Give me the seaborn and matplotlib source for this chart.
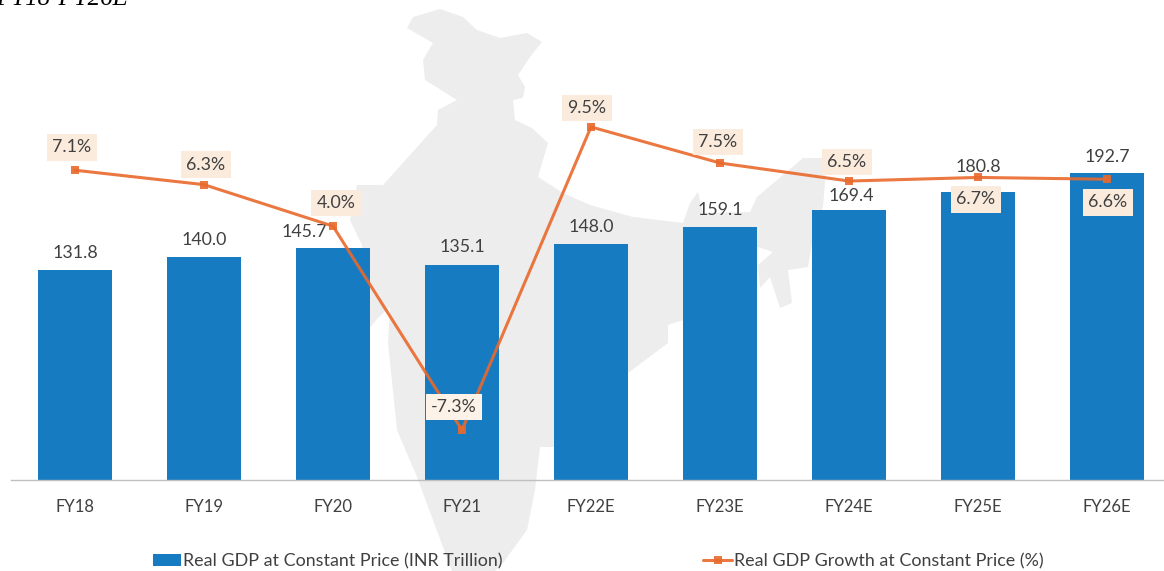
import matplotlib
matplotlib.use('Agg')
import matplotlib.pyplot as plt
import seaborn as sns
import numpy as np
import pandas as pd
from matplotlib.patches import Polygon

years = ['FY18', 'FY19', 'FY20', 'FY21', 'FY22E', 'FY23E', 'FY24E', 'FY25E', 'FY26E']
gdp = [131.8, 140.0, 145.7, 135.1, 148.0, 159.1, 169.4, 180.8, 192.7]
growth = [7.1, 6.3, 4.0, -7.3, 9.5, 7.5, 6.5, 6.7, 6.6]

# label offsets in pixels, from the top of the bar / from the marker
gdp_offset = [(0, 17), (0, 17), (-29, 16), (0, 18), (0, 17), (0, 17), (2, 14), (0, 25), (0, 16)]
growth_offset = [(-3, 23), (2, 20), (3, 23), (-8, 23), (-4, 19), (-2, 21), (-2, 19), (-2, -22), (1, -23)]

# outline of the map behind the chart, image pixels
india_map = [(407, 28), (413, 17), (440, 9), (463, 17), (477, 30), (500, 38), (527, 33), (542, 42),
             (530, 57), (518, 75), (525, 87), (523, 98), (513, 100), (515, 120), (532, 128), (548, 143),
             (538, 177), (563, 193), (590, 205), (633, 217), (683, 223), (690, 203), (698, 192), (703, 213),
             (750, 212), (757, 197), (803, 158), (827, 158), (823, 207), (813, 237), (808, 267), (788, 270),
             (792, 303), (780, 308), (770, 277), (760, 288), (758, 265), (773, 252), (758, 247), (720, 250),
             (700, 300), (683, 320), (668, 325), (668, 343), (628, 373), (555, 447), (540, 447), (535, 490),
             (527, 530), (503, 563), (495, 571), (452, 571), (443, 547), (417, 477), (397, 430), (388, 343),
             (390, 307), (378, 318), (368, 330), (362, 245), (350, 220), (357, 185), (383, 185), (437, 125),
             (438, 110), (457, 100), (425, 80), (423, 60), (433, 43)]

df = pd.DataFrame({'year': years, 'gdp': gdp, 'growth': growth, 'pos': np.arange(len(years))})

W, H = 1164, 571
base_y = 480
left_x = 10.5
step = 129.0
gdp_px = 1.593
growth_px = 18.04
px = 0.72  # points per pixel at dpi 100

sns.set_theme(style='white')
plt.rcParams['font.family'] = ['Lato', 'DejaVu Sans']

blue = '#177BC1'
orange = '#E9692C'
grey_text = '#404040'

fig = plt.figure(figsize=(W / 100, H / 100), dpi=100)

bg = fig.add_axes([0, 0, 1, 1], zorder=0)
bg.set_xlim(0, W)
bg.set_ylim(H, 0)
bg.axis('off')
bg.add_patch(Polygon(india_map, closed=True, facecolor='#EDEDED', edgecolor='none'))

ax = fig.add_axes([left_x / W, (H - base_y) / H, 9 * step / W, base_y / H], zorder=1)
ax.patch.set_alpha(0)
sns.barplot(data=df, x='year', y='gdp', color=blue, saturation=1, width=0.574, ax=ax, linewidth=0,
            label='Real GDP at Constant Price (INR Trillion)', legend=False)
ax.set_xlim(-0.5, 8.5)
ax.set_ylim(0, base_y / gdp_px)
ax.set_xlabel('')
ax.set_ylabel('')
ax.set_yticks([])
ax.tick_params(axis='x', length=0, pad=14, labelsize=12, labelcolor=grey_text)
sns.despine(ax=ax, left=True)
ax.spines['bottom'].set_color('#BFBFBF')
ax.spines['bottom'].set_linewidth(1)

ax2 = ax.twinx()
ax2.patch.set_alpha(0)
low = growth[3] - (base_y - 430) / growth_px
ax2.set_ylim(low, low + base_y / growth_px)
sns.lineplot(data=df, x='pos', y='growth', color=orange, linewidth=2.2, marker='s', markersize=6,
             markeredgewidth=0, alpha=0.9, ax=ax2, legend=False,
             label='Real GDP Growth at Constant Price (%)')
ax2.set_xlim(-0.5, 8.5)
ax2.set_yticks([])
ax2.set_xlabel('')
ax2.set_ylabel('')
for s in ax2.spines.values():
    s.set_visible(False)

for i, v in enumerate(gdp):
    dx, dy = gdp_offset[i]
    ax.annotate(f'{v:.1f}', (i, v), xytext=(dx * px, dy * px), textcoords='offset points',
                ha='center', va='center', fontsize=12.8, color=grey_text)

for i, v in enumerate(growth):
    dx, dy = growth_offset[i]
    fc = '#FCF2E8' if i == 3 else '#FAEBDD'
    ax2.annotate(f'{v:.1f}%', (i, v), xytext=(dx * px, dy * px), textcoords='offset points',
                 ha='center', va='center', fontsize=12.8, color=grey_text, zorder=5,
                 bbox=dict(boxstyle='square,pad=0.3', facecolor=fc, edgecolor='none'))

fig.text(128 / W, 1 - 5 / H, 'FY18-FY26E', family='Liberation Serif', style='italic',
         fontsize=18, color='black', ha='right', va='baseline')

h1, l1 = ax.get_legend_handles_labels()
h2, l2 = ax2.get_legend_handles_labels()
fig.legend(h1 + h2, l1 + l2, loc='center', bbox_to_anchor=(598 / W, 1 - 561 / H), ncol=2, frameon=False,
           fontsize=12.9, labelcolor=grey_text, handlelength=1.6, handletextpad=0.1, columnspacing=11.2,
           borderpad=0, borderaxespad=0)

fig.savefig('out.png', dpi=100)
